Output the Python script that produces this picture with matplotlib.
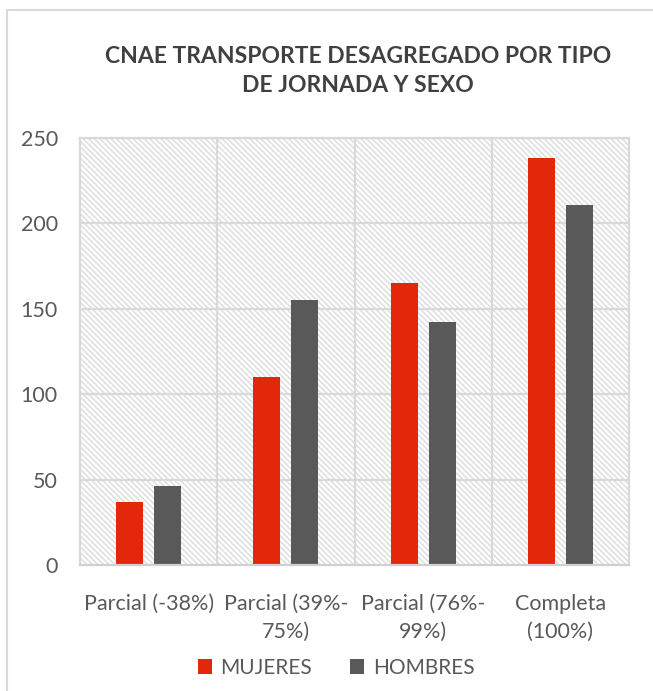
import matplotlib.pyplot as plt
import numpy as np
from matplotlib.patches import Rectangle

# ----- datos -----
categorias = ["Parcial (-38%)", "Parcial (39%-\n75%)", "Parcial (76%-\n99%)", "Completa\n(100%)"]
mujeres = [37, 110, 165, 238]
hombres = [46, 155, 142, 211]
series = ["MUJERES", "HOMBRES"]
colores = ["#E2270A", "#595959"]
yticks = [0, 50, 100, 150, 200, 250]

plt.rcParams['font.family'] = ['Lato', 'DejaVu Sans']
plt.rcParams['hatch.color'] = '#e0e0e0'
plt.rcParams['hatch.linewidth'] = 1.2

W, H = 653, 691
fig = plt.figure(figsize=(W / 100, H / 100), dpi=100)

# marco del grafico
fig.patches.append(Rectangle((7 / W, -0.05), 1.1, (H - 10) / H + 0.05, transform=fig.transFigure,
                             facecolor='none', edgecolor='#d9d9d9', lw=1.5))

ax = fig.add_axes([80 / W, 126 / H, (629 - 80) / W, (565 - 138) / H])

# fondo rayado
ax.add_patch(Rectangle((0, 0), 1, 1, transform=ax.transAxes, facecolor='white',
                       hatch='\\\\\\\\\\\\', edgecolor='#e0e0e0', lw=0, zorder=0))

x = np.arange(len(categorias))
ancho = 0.197
desp = 0.139
ax.bar(x - desp, mujeres, ancho, color=colores[0], label=series[0], zorder=3)
ax.bar(x + desp, hombres, ancho, color=colores[1], label=series[1], zorder=3)

ax.set_xlim(-0.5, len(categorias) - 0.5)
ax.set_ylim(0, 250)
ax.set_yticks(yticks)
ax.set_xticks(x)
ax.set_xticklabels(categorias, linespacing=1.45)

# rejilla
for y in yticks[1:]:
    ax.axhline(y, color='#d9d9d9', lw=1.6, zorder=1)
for b in np.arange(0.5, len(categorias) - 0.5, 1):
    ax.axvline(b, color='#d9d9d9', lw=1.6, zorder=1)

for s in ['top', 'right', 'left']:
    ax.spines[s].set_color('#d9d9d9')
    ax.spines[s].set_linewidth(1.6)
ax.spines['bottom'].set_color('#d0d0d0')
ax.spines['bottom'].set_linewidth(1.6)
ax.spines['bottom'].set_zorder(4)

ax.tick_params(axis='both', length=0, labelsize=15.5, colors='#595959')
ax.tick_params(axis='y', pad=16)
ax.tick_params(axis='x', pad=21)

fig.text(358 / W, 1 - 71 / H, "CNAE TRANSPORTE DESAGREGADO POR TIPO\nDE JORNADA Y SEXO",
         ha='center', va='center', fontsize=16.5, fontweight='bold', color='#404040', linespacing=1.5)

fig.legend(loc='center', bbox_to_anchor=(336 / W, 1 - 668 / H), ncol=2, frameon=False,
           fontsize=15, handlelength=0.7, handleheight=0.7, columnspacing=1.8,
           handletextpad=0.4, labelcolor='#595959')

fig.savefig("out.png", dpi=100)
